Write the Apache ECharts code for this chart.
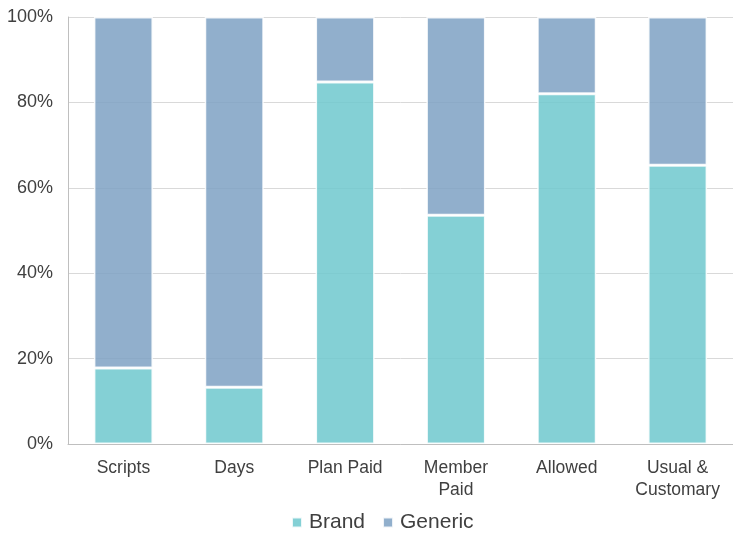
<!DOCTYPE html>
<html>
<head>
<meta charset="utf-8">
<script src="https://cdn.jsdelivr.net/npm/echarts@6/dist/echarts.min.js"></script>
<style>html,body{margin:0;padding:0;background:#fff;}#c{width:733px;height:533px;}</style>
</head>
<body>
<div id="c"></div>
<script>
const categories = ['Scripts', 'Days', 'Plan Paid', 'Member\nPaid', 'Allowed', 'Usual &\nCustomary'];
const brand = [17.8, 13.3, 84.8, 53.6, 82.0, 65.3];
const generic = [82.2, 86.7, 15.2, 46.4, 18.0, 34.7];
const yTicks = [0, 20, 40, 60, 80, 100];

const chart = echarts.init(document.getElementById('c'));
const font = 'Arial, "Liberation Sans", sans-serif';
chart.setOption({
  animation: false,
  textStyle: { fontFamily: font },
  grid: { left: 68, right: 0, top: 17, bottom: 89, containLabel: false },
  legend: {
    top: 512, left: 291, padding: 0,
    itemWidth: 10, itemHeight: 10, itemGap: 17,
    icon: 'rect',
    textStyle: { fontSize: 21, color: '#404040', fontFamily: font, padding: [0, 0, 0, 2] },
    data: ['Brand', 'Generic']
  },
  xAxis: {
    type: 'category', data: categories,
    axisLine: { lineStyle: { color: '#bfbfbf', width: 1 } },
    axisTick: { show: false },
    axisLabel: { interval: 0, fontSize: 17.5, color: '#404040', margin: 13, lineHeight: 22, fontFamily: font }
  },
  yAxis: {
    type: 'value', min: yTicks[0], max: yTicks[yTicks.length - 1], interval: 20,
    axisLine: { show: true, lineStyle: { color: '#bfbfbf', width: 1 } },
    axisTick: { show: false },
    splitLine: { lineStyle: { color: '#d9d9d9', width: 1 } },
    axisLabel: { formatter: '{value}%', fontSize: 18, color: '#404040', margin: 15, fontFamily: font }
  },
  series: [
    {
      name: 'Brand', type: 'bar', stack: 'total', data: brand, barWidth: 59,
      itemStyle: { color: '#6ec8ce', opacity: 0.85, borderColor: '#ffffff', borderWidth: 1.5 }
    },
    {
      name: 'Generic', type: 'bar', stack: 'total', data: generic, barWidth: 59,
      itemStyle: { color: '#7ea1c3', opacity: 0.85, borderColor: '#ffffff', borderWidth: 1.5 }
    }
  ]
});
</script>
</body>
</html>
